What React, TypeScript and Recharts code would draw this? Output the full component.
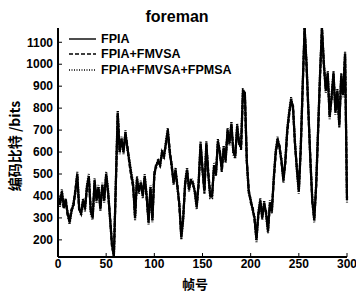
import { LineChart, Line, XAxis, YAxis } from "recharts";

// bits per frame, sampled every 2 frames (0..300)
const frameStep = 2;

const fpia = [
  400, 360, 420, 350, 380, 320, 280, 330, 360, 420,
  500, 340, 320, 380, 340, 440, 490, 330, 300, 470,
  380, 440, 340, 450, 380, 500, 420, 300, 180, 125,
  450, 780, 600, 660, 600, 690, 620, 560, 500, 450,
  300, 480, 420, 460, 400, 490, 400, 280, 440, 290,
  500, 540, 560, 540, 600, 580, 640, 700, 600, 540,
  460, 520, 440, 360, 210, 300, 460, 520, 430, 470,
  460, 420, 350, 460, 640, 520, 420, 640, 500, 400,
  400, 540, 500, 650, 600, 520, 620, 560, 700, 640,
  730, 600, 580, 720, 640, 620, 880, 870, 560, 420,
  380, 340, 300, 200, 320, 380, 300, 370, 320, 240,
  370, 330, 480, 600, 660, 620, 560, 470, 560, 700,
  780, 840, 800, 640, 520, 420, 620, 900, 1165, 1000,
  780, 560, 380, 290, 450, 700, 950, 1165, 1000, 880,
  960, 760, 850, 960, 780, 880, 720, 950, 860, 1050,
  380,
];

const fpiaFmvsa = [
  390, 370, 410, 340, 390, 310, 290, 340, 350, 430,
  490, 330, 330, 370, 350, 430, 480, 340, 310, 460,
  390, 430, 350, 440, 390, 490, 410, 310, 170, 130,
  440, 770, 610, 650, 610, 680, 630, 550, 490, 440,
  310, 470, 430, 450, 410, 480, 390, 290, 430, 300,
  490, 550, 550, 550, 590, 590, 630, 690, 610, 530,
  470, 510, 450, 350, 220, 310, 450, 510, 440, 460,
  450, 430, 360, 450, 630, 530, 410, 630, 510, 410,
  410, 530, 510, 640, 610, 510, 610, 570, 690, 650,
  720, 610, 590, 710, 650, 610, 870, 860, 560, 430,
  370, 350, 290, 210, 310, 370, 310, 360, 330, 250,
  360, 340, 470, 590, 650, 630, 550, 480, 550, 690,
  770, 830, 810, 630, 530, 430, 610, 890, 1165, 990,
  770, 570, 370, 300, 440, 690, 940, 1165, 990, 890,
  950, 770, 840, 950, 790, 870, 730, 940, 870, 1040,
  390,
];

const fpiaFmvsaFpmsa = [
  410, 350, 430, 360, 370, 330, 270, 330, 370, 410,
  510, 350, 310, 390, 330, 450, 500, 320, 290, 480,
  370, 450, 330, 460, 370, 510, 430, 290, 190, 120,
  460, 790, 590, 670, 590, 700, 610, 570, 510, 460,
  290, 490, 410, 470, 390, 500, 410, 270, 450, 280,
  510, 530, 570, 530, 610, 570, 650, 710, 590, 550,
  450, 530, 430, 370, 200, 290, 470, 530, 420, 480,
  470, 410, 340, 470, 650, 510, 430, 650, 490, 390,
  390, 550, 490, 660, 590, 530, 630, 550, 710, 630,
  740, 590, 570, 730, 630, 630, 890, 850, 560, 410,
  390, 330, 310, 190, 330, 390, 290, 380, 310, 230,
  380, 320, 490, 610, 670, 610, 570, 460, 570, 710,
  790, 850, 790, 650, 510, 410, 630, 910, 1165, 1010,
  790, 550, 390, 280, 460, 710, 960, 1165, 1010, 870,
  970, 750, 860, 970, 770, 890, 710, 960, 850, 1060,
  370,
];

const xTicks = [0, 50, 100, 150, 200, 250, 300];
const yTicks = [200, 300, 400, 500, 600, 700, 800, 900, 1000, 1100];

const seriesNames = ["FPIA", "FPIA+FMVSA", "FPIA+FMVSA+FPMSA"];

const data = fpia.map((v, i) => ({
  frame: i * frameStep,
  a: v,
  b: fpiaFmvsa[i],
  c: fpiaFmvsaFpmsa[i],
}));

const latin = '"Liberation Sans", Arial, sans-serif';
const cjk = '"Noto Sans CJK SC", "Liberation Sans", sans-serif';
const tickStyle = { fontFamily: latin, fontSize: 12, fontWeight: 700, fill: "#000" };

const dashes = [undefined, "4 2", "1 1.5"];

const noLabel = () => <g />;

export default function App() {
  return (
    <div style={{ position: "absolute", left: 0, top: 0, width: 356, height: 291, background: "#fff" }}>
      <LineChart width={356} height={291} data={data} margin={{ top: 28, right: 9, bottom: 0, left: 0 }}>
        <XAxis
          dataKey="frame"
          type="number"
          domain={[0, 300]}
          ticks={xTicks}
          interval={0}
          tickSize={-4}
          tickMargin={6}
          height={34}
          tick={tickStyle}
          axisLine={{ stroke: "#000", strokeWidth: 2 }}
          tickLine={{ stroke: "#000" }}
        />
        <XAxis
          xAxisId="top"
          orientation="top"
          dataKey="frame"
          type="number"
          domain={[0, 300]}
          ticks={xTicks}
          interval={0}
          tickSize={-4}
          height={0}
          tick={noLabel}
          axisLine={{ stroke: "#000", strokeWidth: 2 }}
          tickLine={{ stroke: "#000" }}
        />
        <YAxis
          type="number"
          domain={[122, 1165]}
          allowDataOverflow
          ticks={yTicks}
          interval={0}
          tickSize={-4}
          tickMargin={9}
          width={58}
          tick={tickStyle}
          axisLine={{ stroke: "#000", strokeWidth: 2 }}
          tickLine={{ stroke: "#000" }}
        />
        <YAxis
          yAxisId="right"
          orientation="right"
          type="number"
          domain={[122, 1165]}
          allowDataOverflow
          ticks={yTicks}
          interval={0}
          tickSize={-4}
          width={0}
          tick={noLabel}
          axisLine={{ stroke: "#000", strokeWidth: 2 }}
          tickLine={{ stroke: "#000" }}
        />
        {["a", "b", "c"].map((key, i) => (
          <Line
            key={key}
            dataKey={key}
            name={seriesNames[i]}
            type="linear"
            stroke="#000"
            strokeWidth={2.2}
            strokeDasharray={dashes[i]}
            dot={false}
            isAnimationActive={false}
          />
        ))}
      </LineChart>
      <div
        style={{
          position: "absolute",
          left: 69,
          top: 31,
          fontFamily: latin,
          fontSize: 12.5,
          fontWeight: 700,
          color: "#000",
        }}
      >
        {seriesNames.map((name, i) => (
          <div key={name} style={{ display: "flex", alignItems: "center", height: 15.5 }}>
            <svg width={28} height={6} style={{ marginRight: 4 }}>
              <line x1={0} y1={3} x2={27} y2={3} stroke="#000" strokeWidth={1.4} strokeDasharray={dashes[i]} />
            </svg>
            <span>{name}</span>
          </div>
        ))}
      </div>
      <div
        style={{
          position: "absolute",
          left: 177,
          top: 8,
          transform: "translateX(-50%)",
          fontFamily: latin,
          fontSize: 16,
          fontWeight: 700,
        }}
      >
        foreman
      </div>
      <div
        style={{
          position: "absolute",
          left: 14,
          top: 146,
          transform: "translate(-50%, -50%) rotate(-90deg)",
          whiteSpace: "nowrap",
          fontFamily: cjk,
          fontSize: 14,
          fontWeight: 700,
        }}
      >
        编码比特 /bits
      </div>
      <div
        style={{
          position: "absolute",
          left: 195,
          top: 283,
          transform: "translate(-50%, -50%)",
          whiteSpace: "nowrap",
          fontFamily: cjk,
          fontSize: 13,
          fontWeight: 700,
        }}
      >
        帧号
      </div>
    </div>
  );
}
